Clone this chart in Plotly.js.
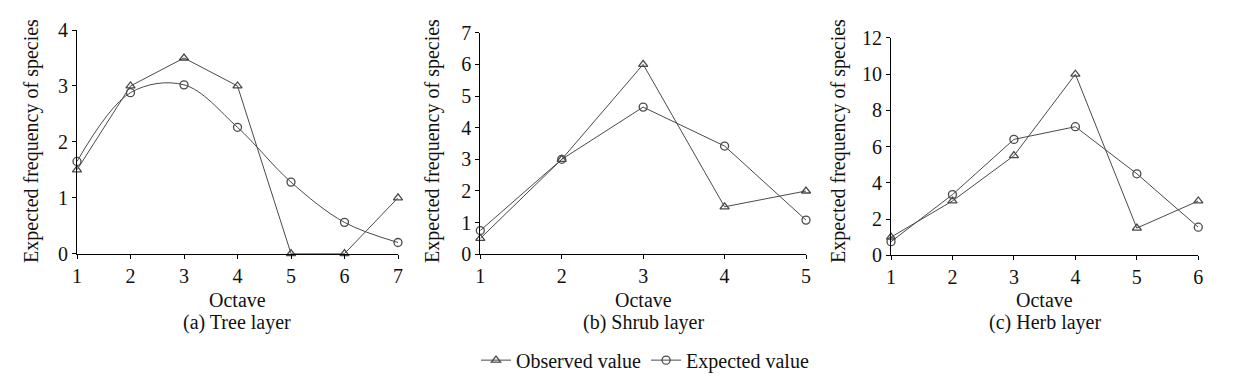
<!DOCTYPE html>
<html>
<head>
<meta charset="utf-8">
<script src="https://cdn.plot.ly/plotly-3.0.1.min.js"></script>
<style>html,body{margin:0;padding:0;background:#fff;}#chart{width:1241px;height:380px;}</style>
</head>
<body>
<div id="chart"></div>
<script>
// Data
var treeOctave = [1, 2, 3, 4, 5, 6, 7];
var treeObserved = [1.5, 3, 3.5, 3, 0, 0, 1];
var treeExpected = [1.65, 2.88, 3.02, 2.26, 1.28, 0.56, 0.2];

var shrubOctave = [1, 2, 3, 4, 5];
var shrubObserved = [0.5, 3, 6, 1.5, 2];
var shrubExpected = [0.75, 3.0, 4.65, 3.42, 1.08];

var herbOctave = [1, 2, 3, 4, 5, 6];
var herbObserved = [1, 3, 5.5, 10, 1.5, 3];
var herbExpected = [0.75, 3.35, 6.4, 7.1, 4.5, 1.55];

var panelCaptions = ["(a) Tree layer", "(b) Shrub layer", "(c) Herb layer"];
var seriesNames = ["Observed value", "Expected value"];
var yTitle = "Expected frequency of species";
var xTitle = "Octave";

var W = 1241, H = 380;
var FONT = "Times New Roman, Liberation Serif, DejaVu Serif, serif";
var lineColor = "#4a4a4a";

function px(x) { return x / W; }
function py(y) { return 1 - y / H; }

var panels = [
  {x: treeOctave, obs: treeObserved, exp: treeExpected, spline: true,
   dom: [77, 398], ydom: [30.3, 255.7], yr: [0, 4], dt: 1, titleX: 32},
  {x: shrubOctave, obs: shrubObserved, exp: shrubExpected, spline: false,
   dom: [480.3, 806], ydom: [33, 256.3], yr: [0, 7], dt: 1, titleX: 433},
  {x: herbOctave, obs: herbObserved, exp: herbExpected, spline: false,
   dom: [891, 1198.3], ydom: [38.3, 257.3], yr: [0, 12], dt: 2, titleX: 839}
];

var traces = [];
var layout = {
  width: W, height: H,
  margin: {l: 0, r: 0, t: 0, b: 0},
  paper_bgcolor: "#fff", plot_bgcolor: "#fff",
  font: {family: FONT, size: 20, color: "#111"},
  showlegend: true,
  legend: {
    orientation: "h", x: px(645), xanchor: "center", y: py(363), yanchor: "middle",
    font: {family: FONT, size: 20, color: "#111"}, itemwidth: 30, tracegroupgap: 0,
    bgcolor: "rgba(0,0,0,0)"
  },
  annotations: []
};

panels.forEach(function (p, i) {
  var n = i === 0 ? "" : String(i + 1);
  traces.push({
    x: p.x, y: p.obs, xaxis: "x" + n, yaxis: "y" + n, type: "scatter", mode: "lines+markers",
    name: seriesNames[0], legendgroup: "obs", showlegend: i === 0, cliponaxis: false,
    line: {color: lineColor, width: 1},
    marker: {symbol: "triangle-up-open", size: 8, color: lineColor, line: {width: 1.3, color: lineColor}}
  });
  traces.push({
    x: p.x, y: p.exp, xaxis: "x" + n, yaxis: "y" + n, type: "scatter", mode: "lines+markers",
    name: seriesNames[1], legendgroup: "exp", showlegend: i === 0, cliponaxis: false,
    line: {color: lineColor, width: 1, shape: p.spline ? "spline" : "linear", smoothing: 1},
    marker: {symbol: "circle-open", size: 8, color: lineColor, line: {width: 1.3, color: lineColor}}
  });
  layout["xaxis" + n] = {
    domain: [px(p.dom[0]), px(p.dom[1])], anchor: "y" + n,
    range: [p.x[0], p.x[p.x.length - 1]], dtick: 1, tick0: 1,
    showgrid: false, zeroline: false, showline: true, linecolor: "#000", linewidth: 1,
    ticks: "outside", ticklen: 4, tickcolor: "#000", tickwidth: 1,
    tickfont: {family: FONT, size: 20, color: "#111"}, fixedrange: true
  };
  layout["yaxis" + n] = {
    domain: [py(p.ydom[1]), py(p.ydom[0])], anchor: "x" + n,
    range: p.yr, dtick: p.dt, tick0: 0,
    showgrid: false, zeroline: false, showline: true, linecolor: "#000", linewidth: 1,
    ticks: "outside", ticklen: 4, tickcolor: "#000", tickwidth: 1,
    tickfont: {family: FONT, size: 20, color: "#111"}, fixedrange: true
  };
  var cx = (p.dom[0] + p.dom[1]) / 2;
  layout.annotations.push({
    xref: "paper", yref: "paper", x: px(cx), y: py(302), xanchor: "center", yanchor: "middle",
    text: xTitle, showarrow: false, font: {family: FONT, size: 20, color: "#111"}
  });
  layout.annotations.push({
    xref: "paper", yref: "paper", x: px(cx), y: py(325), xanchor: "center", yanchor: "middle",
    text: panelCaptions[i], showarrow: false, font: {family: FONT, size: 20, color: "#111"}
  });
  layout.annotations.push({
    xref: "paper", yref: "paper", x: px(p.titleX), y: py(142), xanchor: "center", yanchor: "middle",
    text: yTitle, textangle: -90, showarrow: false, font: {family: FONT, size: 20, color: "#111"}
  });
});

Plotly.newPlot("chart", traces, layout, {staticPlot: true});
</script>
</body>
</html>
